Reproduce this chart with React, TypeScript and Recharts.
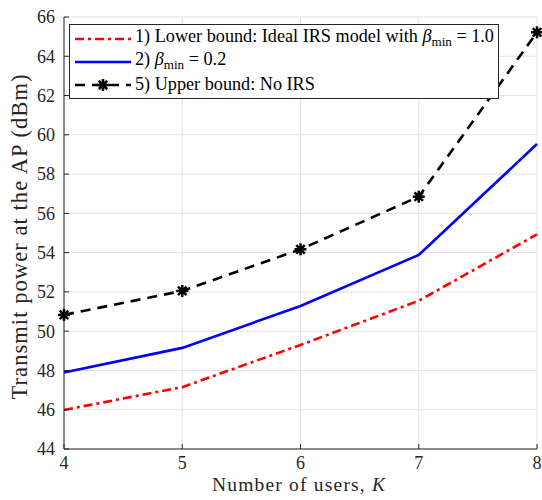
import React from 'react';
import { LineChart, Line, XAxis, YAxis, CartesianGrid, Legend } from 'recharts';

const users = [4, 5, 6, 7, 8];
const lowerBound = [45.99, 47.15, 49.3, 51.55, 54.93];
const betaMin02 = [47.9, 49.15, 51.28, 53.88, 59.53];
const upperBound = [50.83, 52.05, 54.17, 56.85, 65.22];
const yTicks = [44, 46, 48, 50, 52, 54, 56, 58, 60, 62, 64, 66];
const xTicks = [4, 5, 6, 7, 8];

const data = users.map((k, i) => ({
  k,
  lower: lowerBound[i],
  beta: betaMin02[i],
  upper: upperBound[i],
}));

const FONT = '"Liberation Serif", "DejaVu Serif", serif';
const AX = '#262626';

const Asterisk = (props: any) => {
  const { cx, cy } = props;
  if (cx == null || cy == null) return null;
  const r = 6;
  const lines = [0, 45, 90, 135].map((a) => {
    const rad = (a * Math.PI) / 180;
    return (
      <line
        key={a}
        x1={cx - r * Math.cos(rad)}
        y1={cy - r * Math.sin(rad)}
        x2={cx + r * Math.cos(rad)}
        y2={cy + r * Math.sin(rad)}
        stroke="#000"
        strokeWidth={2.5}
      />
    );
  });
  return (
    <g>
      {lines}
      <circle cx={cx} cy={cy} r={3.4} fill="#000" />
    </g>
  );
};

const Beta = () => (
  <span>
    <i>β</i>
    <sub style={{ fontSize: '0.72em', verticalAlign: '-0.3em' }}>min</sub>
  </span>
);

const legendItems = [
  { key: 'lower', color: '#ff0000', dash: '9 4 3 4', marker: false, label: <>1) Lower bound: Ideal IRS model with <Beta /> = 1.0</> },
  { key: 'beta', color: '#0000ff', dash: '', marker: false, label: <>2) <Beta /> = 0.2</> },
  { key: 'upper', color: '#000000', dash: '10 7', marker: true, label: <>5) Upper bound: No IRS</> },
];

const LegendBox = () => (
  <div
    style={{
      boxSizing: 'border-box',
      width: 430,
      height: 75,
      border: '1px solid #262626',
      background: '#fff',
      padding: '2px 0 0 4px',
      fontFamily: FONT,
      fontSize: 18.2,
      color: '#000',
      lineHeight: '23px',
      whiteSpace: 'nowrap',
    }}
  >
    {legendItems.map((it) => (
      <div key={it.key} style={{ display: 'flex', alignItems: 'center', height: 23 }}>
        <svg width={58} height={20} style={{ marginRight: 3, flex: 'none' }}>
          <line x1={1} y1={10} x2={57} y2={10} stroke={it.color} strokeWidth={2.6} strokeDasharray={it.dash || undefined} />
          {it.marker && <Asterisk cx={29} cy={10} />}
        </svg>
        <span>{it.label}</span>
      </div>
    ))}
  </div>
);

const XLabel = (props: any) => {
  const { viewBox } = props;
  const cx = viewBox.x + viewBox.width / 2 - 2;
  return (
    <text x={cx} y={491} textAnchor="middle" fontFamily={FONT} fontSize={19.5} fill={AX} textLength={173} lengthAdjust="spacing">
      <tspan>Number of users, </tspan>
      <tspan fontStyle="italic">K</tspan>
    </text>
  );
};

const YLabel = () => {
  const cy = 237;
  return (
    <text
      x={27}
      y={cy}
      transform={`rotate(-90, 27, ${cy})`}
      textAnchor="middle"
      fontFamily={FONT}
      fontSize={22.5}
      fill={AX}
      textLength={325}
      lengthAdjust="spacing"
    >
      Transmit power at the AP (dBm)
    </text>
  );
};

export default function App() {
  return (
    <div style={{ position: 'absolute', left: 0, top: 0, width: 542, height: 500, background: '#fff' }}>
      <LineChart width={542} height={500} data={data} margin={{ top: 17, right: 5, bottom: 21, left: 0 }}>
        <CartesianGrid stroke="#e3e3e3" strokeWidth={1} />
        <XAxis
          dataKey="k"
          type="number"
          domain={[4, 8]}
          ticks={xTicks}
          height={30}
          stroke={AX}
          tickSize={-5}
          tickMargin={12}
          tick={{ fontFamily: FONT, fontSize: 18, fill: AX }}
          label={<XLabel />}
        />
        <XAxis
          xAxisId="top"
          orientation="top"
          dataKey="k"
          type="number"
          domain={[4, 8]}
          ticks={xTicks}
          height={0}
          stroke={AX}
          tickSize={-5}
          tick={false}
        />
        <YAxis
          type="number"
          domain={[44, 66]}
          ticks={yTicks}
          width={64}
          stroke={AX}
          tickSize={-5}
          tickMargin={14}
          tick={{ fontFamily: FONT, fontSize: 18, fill: AX }}
          label={<YLabel />}
        />
        <YAxis
          yAxisId="right"
          orientation="right"
          type="number"
          domain={[44, 66]}
          ticks={yTicks}
          width={0}
          stroke={AX}
          tickSize={-5}
          tick={false}
        />
        <Legend
          layout="vertical"
          align="center"
          verticalAlign="middle"
          content={<LegendBox />}
          wrapperStyle={{ position: 'absolute', left: 69, top: 24, width: 'auto', height: 'auto' }}
        />
        <Line dataKey="lower" stroke="#ff0000" strokeWidth={2.6} strokeDasharray="9 4 3 4" dot={false} isAnimationActive={false} />
        <Line dataKey="beta" stroke="#0000ff" strokeWidth={2.6} dot={false} isAnimationActive={false} />
        <Line dataKey="upper" stroke="#000000" strokeWidth={2.6} strokeDasharray="10 7" dot={<Asterisk />} isAnimationActive={false} />
      </LineChart>
    </div>
  );
}
